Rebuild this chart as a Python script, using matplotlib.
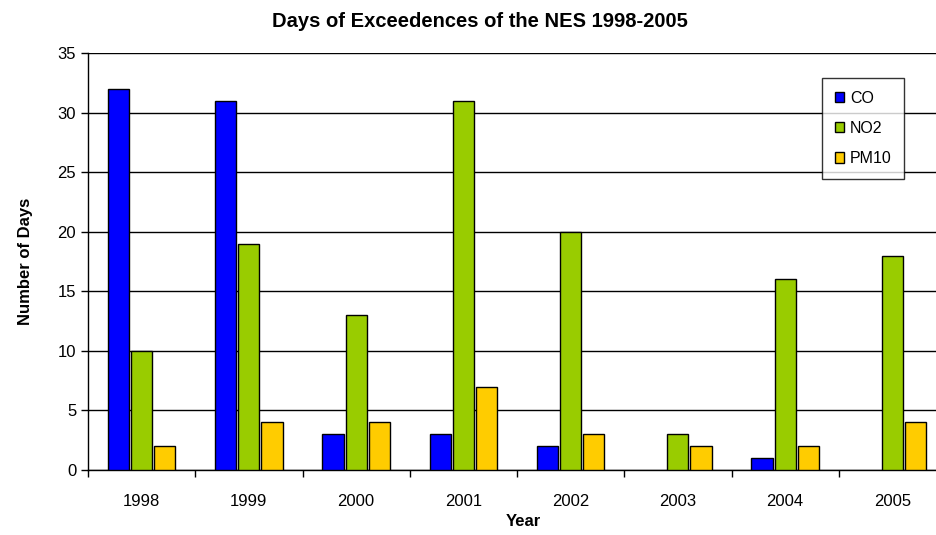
import numpy as np
import matplotlib.pyplot as plt

plt.rcParams['font.family'] = ['Liberation Sans', 'DejaVu Sans']

years = ['1998', '1999', '2000', '2001', '2002', '2003', '2004', '2005']
co = [32, 31, 3, 3, 2, 0, 1, 0]
no2 = [10, 19, 13, 31, 20, 3, 16, 18]
pm10 = [2, 4, 4, 7, 3, 2, 2, 4]

series = [('CO', co, '#0000ff'), ('NO2', no2, '#99cc00'), ('PM10', pm10, '#ffcc00')]

fig = plt.figure(figsize=(9.37, 5.35), dpi=100)
ax = fig.add_axes([88 / 937, 65 / 535, 858 / 937, 417 / 535])

x = np.arange(len(years))
w = 0.215
for i, (name, vals, col) in enumerate(series):
    vals = np.array(vals)
    # zero-height bars are not drawn at all in the original
    lw = np.where(vals > 0, 1.0, 0.0)
    ax.bar(x + (i - 1) * w, vals, w * 0.92, color=col, edgecolor='black',
           linewidth=lw, label=name, zorder=3)

ax.set_xlim(-0.5, len(years) - 0.5)
ax.set_ylim(0, 35)
ax.set_yticks(range(0, 36, 5))
ax.grid(axis='y', color='black', linewidth=1.0, zorder=1)
ax.set_xticks(x)
ax.set_xticklabels(years)
ax.set_xticks(np.arange(-0.5, len(years)), minor=True)
ax.tick_params(axis='x', which='major', length=0, pad=17, labelsize=12)
ax.tick_params(axis='x', which='minor', length=5, width=1, direction='out')
ax.tick_params(axis='y', length=5, width=1, direction='out', labelsize=12)

for s in ['top', 'right']:
    ax.spines[s].set_visible(False)
ax.spines['left'].set_linewidth(1.0)
ax.spines['bottom'].set_linewidth(1.0)

ax.set_title('Days of Exceedences of the NES 1998-2005', fontsize=14.5,
             fontweight='bold', pad=19, x=(480 - 88) / 858)
ax.set_ylabel('Number of Days', fontsize=12, fontweight='bold', labelpad=18)
ax.set_xlabel('Year', fontsize=12, fontweight='bold', labelpad=4,
              x=(523 - 88) / 858)

leg = ax.legend(loc='upper left', bbox_to_anchor=((822 - 88) / 858, 1 - (78 - 53) / 417),
                frameon=True, fancybox=False, edgecolor='black', fontsize=11.5,
                handlelength=0.6, handleheight=0.6, handletextpad=0.35,
                labelspacing=0.95, borderpad=0.8, borderaxespad=0)
leg.get_frame().set_linewidth(1.0)

fig.savefig('out.png', dpi=100)
